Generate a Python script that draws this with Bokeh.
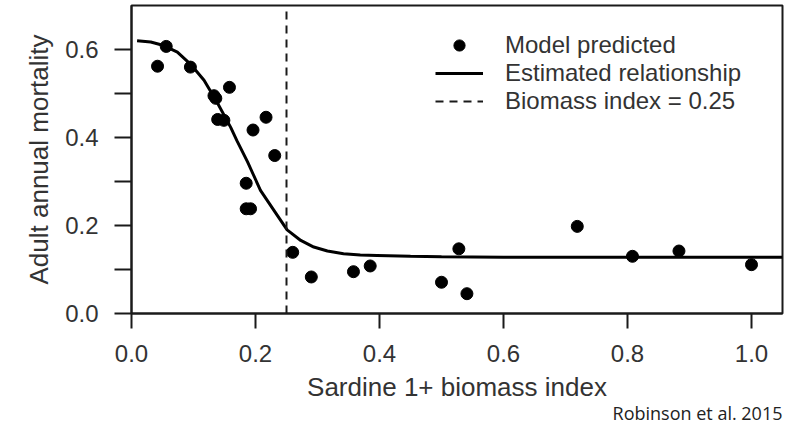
from bokeh.plotting import figure
from bokeh.models import Legend, LegendItem, FixedTicker, Title
from bokeh.embed import file_html
from bokeh.resources import INLINE

# Model predicted points (Sardine 1+ biomass index vs adult annual mortality)
biomass = [0.042, 0.056, 0.095, 0.133, 0.136, 0.158, 0.139, 0.149, 0.196, 0.217,
           0.231, 0.185, 0.185, 0.192, 0.260, 0.290, 0.358, 0.385, 0.500, 0.528,
           0.541, 0.719, 0.808, 0.883, 1.000]
mortality = [0.562, 0.607, 0.560, 0.495, 0.489, 0.514, 0.441, 0.439, 0.417, 0.446,
             0.359, 0.296, 0.238, 0.238, 0.139, 0.083, 0.095, 0.108, 0.071, 0.147,
             0.045, 0.198, 0.130, 0.142, 0.111]

# Estimated relationship
curve_x = [0.009, 0.031, 0.052, 0.074, 0.095, 0.117, 0.138, 0.160, 0.170, 0.187,
           0.208, 0.230, 0.251, 0.273, 0.294, 0.316, 0.342, 0.369, 0.396, 0.450,
           0.500, 0.600, 0.800, 1.050]
curve_y = [0.620, 0.617, 0.609, 0.594, 0.567, 0.530, 0.480, 0.423, 0.393, 0.345,
           0.280, 0.234, 0.190, 0.166, 0.151, 0.142, 0.136, 0.133, 0.132, 0.130,
           0.129, 0.128, 0.128, 0.128]

threshold = 0.25

x_limits = (0.0, 1.05)
y_limits = (0.0, 0.7)
x_ticks = [0.0, 0.2, 0.4, 0.6, 0.8, 1.0]
x_tick_labels = ["0.0", "0.2", "0.4", "0.6", "0.8", "1.0"]
y_ticks = [0.0, 0.1, 0.2, 0.3, 0.4, 0.5, 0.6]
y_tick_labels = ["0.0", "", "0.2", "", "0.4", "", "0.6"]

FONT = "Liberation Sans"
TXT = "#333333"
INK = "#1a1a1a"

p = figure(width=800, height=422, x_range=x_limits, y_range=y_limits,
           output_backend="svg", toolbar_location=None, title=None,
           min_border_left=131, min_border_right=18, min_border_top=5,
           min_border_bottom=109)

p.xgrid.visible = False
p.ygrid.visible = False
p.outline_line_color = INK
p.outline_line_width = 2
p.outline_line_alpha = 1.0
p.background_fill_color = "white"
p.border_fill_color = "white"

p.xaxis.ticker = FixedTicker(ticks=x_ticks, minor_ticks=[])
p.xaxis.major_label_overrides = dict(zip(x_ticks, x_tick_labels))
p.yaxis.ticker = FixedTicker(ticks=y_ticks, minor_ticks=[])
p.yaxis.major_label_overrides = dict(zip(y_ticks, y_tick_labels))

for ax in (p.xaxis[0], p.yaxis[0]):
    ax.axis_line_color = INK
    ax.axis_line_width = 2
    ax.major_tick_line_color = INK
    ax.major_tick_line_width = 2
    ax.major_tick_in = 0
    ax.minor_tick_line_color = None
    ax.major_label_text_font = FONT
    ax.major_label_text_font_size = "24px"
    ax.major_label_text_color = TXT
    ax.axis_label_text_font = FONT
    ax.axis_label_text_font_size = "26px"
    ax.axis_label_text_font_style = "normal"
    ax.axis_label_text_color = TXT

p.xaxis.major_tick_out = 15
p.xaxis.major_label_standoff = 16
p.xaxis.axis_label = "Sardine 1+ biomass index"
p.xaxis.axis_label_standoff = 7
p.yaxis.major_tick_out = 17
p.yaxis.major_label_standoff = 16
p.yaxis.axis_label = "Adult annual mortality"
p.yaxis.axis_label_standoff = 8

pts = p.scatter(biomass, mortality, size=12, fill_color="black", line_color="black")
curve = p.line(curve_x, curve_y, line_width=3, line_color="black")
thr = p.line([threshold, threshold], list(y_limits), line_width=2,
             line_color=INK, line_dash="8 6")

legend = Legend(items=[
    LegendItem(label="Model predicted", renderers=[pts]),
    LegendItem(label="Estimated relationship", renderers=[curve]),
    LegendItem(label="Biomass index = 0.25", renderers=[thr]),
], location=(304, 198), glyph_width=48, glyph_height=28, label_height=28,
    label_standoff=22, spacing=0, padding=0, margin=0,
    border_line_color=None, background_fill_alpha=0,
    label_text_font=FONT, label_text_font_size="24px", label_text_color=TXT)
p.add_layout(legend)

footer = Title(text="Robinson et al. 2015", align="right", vertical_align="top",
               text_font="Open Sans", text_font_size="18px",
               text_font_style="normal", text_color="#222222",
               standoff=-8, offset=0)
p.add_layout(footer, "below")

open("out.html", "w").write(file_html(p, INLINE))
